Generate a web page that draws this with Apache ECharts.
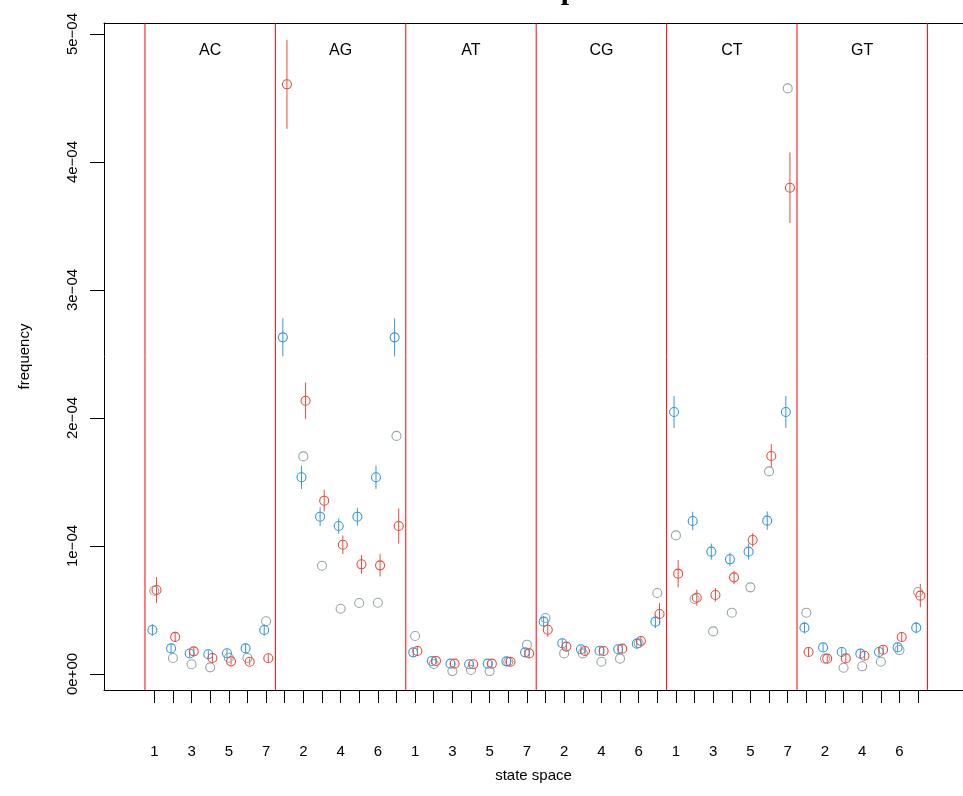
<!DOCTYPE html>
<html><head><meta charset="utf-8">
<script src="https://cdn.jsdelivr.net/npm/echarts@6/dist/echarts.min.js"></script>
<style>html,body{margin:0;padding:0;background:#fff}#c{width:963px;height:796px}</style>
</head><body><div id="c"></div>
<script>
// ---------- data ----------
const titleText = 'Conditional spectra';
const panels = ['AC', 'AG', 'AT', 'CG', 'CT', 'GT'];
const statesPerPanel = 7;
const yTickValues = [0, 1e-4, 2e-4, 3e-4, 4e-4, 5e-4];

// grey series (no error bars)
const greyVals = [
  6.5e-5, 1.25e-5, 0.76e-5, 0.52e-5, 1.27e-5, 1.25e-5, 4.12e-5,
  null, 17.0e-5, 8.46e-5, 5.1e-5, 5.55e-5, 5.57e-5, 18.6e-5,
  2.97e-5, 0.78e-5, 0.23e-5, 0.31e-5, 0.23e-5, 0.96e-5, 2.29e-5,
  4.37e-5, 1.61e-5, 1.61e-5, 0.96e-5, 1.2e-5, 2.4e-5, 6.33e-5,
  10.83e-5, 5.86e-5, 3.33e-5, 4.79e-5, 6.77e-5, 15.83e-5, 45.75e-5,
  4.79e-5, 1.2e-5, 0.49e-5, 0.6e-5, 0.96e-5, 1.87e-5, 6.41e-5
];
// blue series
const blueVals = [
  3.44e-5, 2.0e-5, 1.6e-5, 1.54e-5, 1.62e-5, 2.0e-5, 3.44e-5,
  26.3e-5, 15.37e-5, 12.29e-5, 11.56e-5, 12.29e-5, 15.37e-5, 26.3e-5,
  1.69e-5, 1.02e-5, 0.81e-5, 0.76e-5, 0.81e-5, 0.99e-5, 1.69e-5,
  4.09e-5, 2.4e-5, 1.93e-5, 1.82e-5, 1.93e-5, 2.37e-5, 4.09e-5,
  20.47e-5, 11.95e-5, 9.56e-5, 8.96e-5, 9.56e-5, 11.98e-5, 20.47e-5,
  3.62e-5, 2.08e-5, 1.72e-5, 1.59e-5, 1.72e-5, 2.08e-5, 3.62e-5
];
const blueErr = [
  0.45e-5, 0.35e-5, 0.3e-5, 0.3e-5, 0.3e-5, 0.35e-5, 0.45e-5,
  1.48e-5, 0.91e-5, 0.73e-5, 0.6e-5, 0.7e-5, 0.91e-5, 1.48e-5,
  0.3e-5, 0.25e-5, 0.2e-5, 0.2e-5, 0.2e-5, 0.25e-5, 0.3e-5,
  0.45e-5, 0.35e-5, 0.3e-5, 0.3e-5, 0.3e-5, 0.35e-5, 0.5e-5,
  1.24e-5, 0.72e-5, 0.63e-5, 0.52e-5, 0.63e-5, 0.72e-5, 1.24e-5,
  0.45e-5, 0.3e-5, 0.3e-5, 0.3e-5, 0.3e-5, 0.3e-5, 0.45e-5
];
// red series
const redVals = [
  6.56e-5, 2.9e-5, 1.77e-5, 1.25e-5, 0.99e-5, 0.96e-5, 1.23e-5,
  46.07e-5, 21.35e-5, 13.54e-5, 10.1e-5, 8.57e-5, 8.49e-5, 11.56e-5,
  1.8e-5, 1.02e-5, 0.81e-5, 0.76e-5, 0.81e-5, 0.96e-5, 1.61e-5,
  3.46e-5, 2.14e-5, 1.8e-5, 1.8e-5, 1.98e-5, 2.58e-5, 4.69e-5,
  7.84e-5, 5.96e-5, 6.17e-5, 7.55e-5, 10.47e-5, 17.03e-5, 37.99e-5,
  1.72e-5, 1.2e-5, 1.22e-5, 1.43e-5, 1.9e-5, 2.89e-5, 6.12e-5
];
const redErr = [
  1.02e-5, 0.4e-5, 0.3e-5, 0.3e-5, 0.25e-5, 0.25e-5, 0.3e-5,
  3.48e-5, 1.43e-5, 0.85e-5, 0.72e-5, 0.73e-5, 0.87e-5, 1.37e-5,
  0.35e-5, 0.25e-5, 0.2e-5, 0.2e-5, 0.2e-5, 0.25e-5, 0.3e-5,
  0.55e-5, 0.3e-5, 0.3e-5, 0.3e-5, 0.3e-5, 0.35e-5, 0.85e-5,
  1.07e-5, 0.63e-5, 0.52e-5, 0.52e-5, 0.53e-5, 0.94e-5, 2.76e-5,
  0.35e-5, 0.25e-5, 0.3e-5, 0.3e-5, 0.3e-5, 0.4e-5, 0.91e-5
];

// ---------- styling / layout ----------
const C_GREY = '#95A5A6', C_BLUE = '#3498DB', C_RED = '#E74C3C';
const OFF_BLUE = -0.1, OFF_GREY = 0, OFF_RED = 0.12;
const FONT = 'Liberation Sans, Arial, sans-serif';
const X_MIN = -1.7, X_MAX = 44.41;

const nPos = panels.length * statesPerPanel;
const positions = Array.from({length: nPos}, (_, i) => i + 1);
const oddPositions = positions.filter(p => p % 2 === 1);
const borders = Array.from({length: panels.length + 1}, (_, i) => i * statesPerPanel + 0.5);

function pts(vals, off) {
  return vals.map((v, i) => v == null ? null : [i + 1 + off, v]).filter(d => d);
}
function bars(vals, errs, off) {
  return vals.map((v, i) => v == null ? null : [i + 1 + off, v - errs[i], v + errs[i]]).filter(d => d);
}
function errSeries(data, color) {
  return {
    type: 'custom', data: data, silent: true, clip: true,
    encode: {x: 0, y: [1, 2]},
    renderItem: function (params, api) {
      const a = api.coord([api.value(0), api.value(1)]);
      const b = api.coord([api.value(0), api.value(2)]);
      return {type: 'line', shape: {x1: a[0], y1: a[1], x2: b[0], y2: b[1]},
              style: {stroke: color, lineWidth: 1}};
    }
  };
}
function circles(data, color) {
  return {
    type: 'scatter', data: data, symbol: 'circle', symbolSize: 9, silent: true,
    itemStyle: {color: 'rgba(0,0,0,0)', borderColor: color, borderWidth: 1.1, opacity: 1}
  };
}

const chart = echarts.init(document.getElementById('c'), null, {renderer: 'canvas'});
const option = {
  animation: false,
  backgroundColor: '#fff',
  grid: {left: 104, right: 0, top: 23, bottom: 106, show: false},
  graphic: [
    {type: 'text', x: 0, y: 0,
     style: {text: titleText, x: 516, y: 6, align: 'center', verticalAlign: 'bottom',
              font: 'bold 30px "Liberation Serif", serif', fill: '#000'}}
  ],
  xAxis: [{
    type: 'value', min: X_MIN, max: X_MAX,
    name: 'state space', nameLocation: 'middle', nameGap: 78,
    nameTextStyle: {fontFamily: FONT, fontSize: 15, color: '#000'},
    splitLine: {show: false},
    axisLine: {show: true, onZero: false, lineStyle: {color: '#000', width: 1}},
    axisTick: {show: true, customValues: positions, length: 13, lineStyle: {color: '#000'}},
    axisLabel: {show: true, customValues: oddPositions, margin: 54, fontFamily: FONT, fontSize: 15, color: '#000',
      formatter: v => String(((Math.round(v) - 1) % statesPerPanel) + 1)}
  }, {
    type: 'value', position: 'top', min: X_MIN, max: X_MAX,
    splitLine: {show: false}, axisTick: {show: false}, axisLabel: {show: false},
    axisLine: {show: true, onZero: false, lineStyle: {color: '#000', width: 1}}
  }],
  yAxis: {
    type: 'value', min: -1.25e-5, max: 50.86e-5,
    name: 'frequency', nameLocation: 'middle', nameGap: 72, nameRotate: 90,
    nameTextStyle: {fontFamily: FONT, fontSize: 15, color: '#000'},
    splitLine: {show: false},
    axisLine: {show: true, onZero: false, lineStyle: {color: '#000', width: 1}},
    axisTick: {show: true, inside: false, customValues: yTickValues, length: 14, lineStyle: {color: '#000'}},
    axisLabel: {show: true, customValues: yTickValues, rotate: 90, margin: 24, fontFamily: FONT, fontSize: 15, color: '#000',
      formatter: v => { const e = Math.round(v / 1e-4); return e === 0 ? '0e+00' : e + 'e\u221204'; }}
  },
  series: [
    {
      type: 'custom', silent: true, data: borders.map(b => [b, 0]), encode: {x: 0, y: 1},
      renderItem: function (params, api) {
        const p = api.coord([api.value(0), 0]);
        const cs = params.coordSys;
        return {type: 'line', shape: {x1: p[0], y1: cs.y, x2: p[0], y2: cs.y + cs.height},
                style: {stroke: '#FF0000', lineWidth: 1}};
      }
    },
    {
      type: 'custom', silent: true,
      data: panels.map((name, i) => [i * statesPerPanel + (statesPerPanel + 1) / 2, 0, i]),
      encode: {x: 0, y: 1},
      renderItem: function (params, api) {
        const p = api.coord([api.value(0), 0]);
        const cs = params.coordSys;
        return {type: 'text', x: p[0], y: cs.y + 28,
                style: {text: panels[api.value(2)], align: 'center', verticalAlign: 'middle',
                        font: '16px ' + FONT, fill: '#000'}};
      }
    },
    circles(pts(greyVals, OFF_GREY), C_GREY),
    errSeries(bars(blueVals, blueErr, OFF_BLUE), C_BLUE),
    circles(pts(blueVals, OFF_BLUE), C_BLUE),
    errSeries(bars(redVals, redErr, OFF_RED), C_RED),
    circles(pts(redVals, OFF_RED), C_RED)
  ]
};
chart.setOption(option);
</script>
</body></html>
